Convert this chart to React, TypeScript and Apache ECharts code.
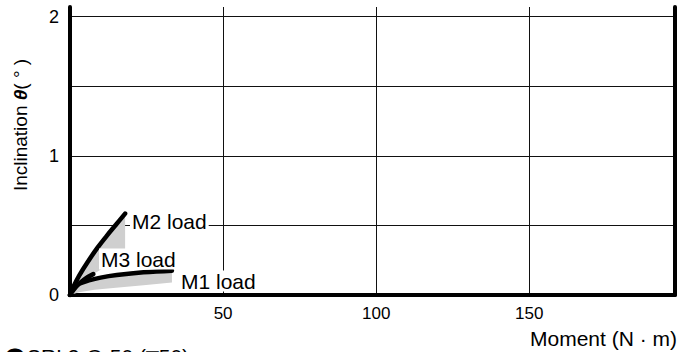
import React, { useEffect, useRef } from "react";
import * as echarts from "echarts";

// Data (x: moment N·m, y: inclination °)
const m1Line = [[0, 0], [1, 0.045], [3, 0.08], [6.5, 0.107], [10, 0.125], [15.3, 0.143], [24, 0.163], [33.3, 0.175]];
const m1Lower = [[0, 0], [3, 0.02], [8, 0.037], [15, 0.052], [24, 0.07], [33.3, 0.09]];
const m2Line = [[0, 0], [1, 0.055], [3, 0.14], [6, 0.245], [9, 0.34], [12, 0.425], [15, 0.505], [18, 0.585]];
const m2Lower = [[0, 0], [4, 0.08], [7.6, 0.15], [12, 0.21], [18, 0.26]];
const m3Line = [[0, 0], [2, 0.06], [4.5, 0.11], [7.6, 0.15]];
const m3Upper = [[0, 0], [3, 0.13], [6, 0.2], [9.8, 0.26]];

const xMin = 0;
const xMax = 197.6;
const xInterval = 50;
const yMin = 0;
const yMax = 2.07;
const yInterval = 0.5;

const loadLabels = ["M1 load", "M2 load", "M3 load"];
const xName = "Moment (N · m)";
const yNameMain = "Inclination ";
const yNameSym = "θ";
const yNameUnit = "( ° )";
const footMark = "●";
const footTitle = "SRL3-Q-50 (□50)";

const FONT = "'Liberation Sans', Arial, Helvetica, sans-serif";

function bandSeries(upper: number[][], lower: number[][]) {
  return {
    type: "custom",
    xAxisIndex: 0,
    yAxisIndex: 0,
    z: 1,
    silent: true,
    data: [[0, 0]],
    renderItem: (_params: any, api: any) => {
      const pts = upper.map((p) => api.coord(p));
      const low = lower.slice().reverse().map((p) => api.coord(p));
      return {
        type: "polygon",
        shape: { points: pts.concat(low) },
        style: { fill: "#cfcfcf", stroke: "none" },
      };
    },
  };
}

function lineSeries(data: number[][]) {
  return {
    type: "line",
    xAxisIndex: 0,
    yAxisIndex: 0,
    z: 3,
    data,
    smooth: 0.4,
    symbol: "none",
    lineStyle: { color: "#000", width: 4.5, cap: "round" },
  };
}

export default function App() {
  const ref = useRef<HTMLDivElement>(null);
  useEffect(() => {
    if (!ref.current) return;
    const chart = echarts.init(ref.current, null, { renderer: "svg" });
    const labelStyle = (text: string) => ({
      text,
      font: `21px ${FONT}`,
      fill: "#000",
      backgroundColor: "#fff",
      padding: [0, 2, 0, 2],
      align: "left",
      verticalAlign: "middle",
    });
    chart.setOption({
      animation: false,
      backgroundColor: "#fff",
      textStyle: { fontFamily: FONT },
      grid: { left: 70, right: 4, top: 7, bottom: 57, containLabel: false },
      xAxis: {
        type: "value",
        min: xMin,
        max: xMax,
        interval: xInterval,
        axisLine: { show: true, onZero: false, lineStyle: { color: "#000", width: 4 } },
        axisTick: { show: false },
        axisLabel: {
          showMinLabel: false,
          showMaxLabel: false,
          color: "#000",
          fontSize: 17,
          fontFamily: FONT,
          margin: 10,
        },
        splitLine: { show: true, showMinLine: false, showMaxLine: false, lineStyle: { color: "#111", width: 1 } },
      },
      yAxis: [
        {
          type: "value",
          min: yMin,
          max: yMax,
          interval: yInterval,
          axisLine: { show: true, onZero: false, lineStyle: { color: "#000", width: 4 } },
          axisTick: { show: false },
          axisLabel: {
            showMaxLabel: false,
            color: "#000",
            fontSize: 18,
            fontFamily: FONT,
            margin: 11,
            formatter: (v: number) => (Math.abs(v - Math.round(v)) < 1e-9 ? String(Math.round(v)) : ""),
          },
          splitLine: { show: true, showMinLine: false, showMaxLine: false, lineStyle: { color: "#111", width: 1 } },
        },
        {
          type: "value",
          position: "right",
          min: yMin,
          max: yMax,
          interval: yInterval,
          axisLine: { show: true, onZero: false, lineStyle: { color: "#000", width: 4 } },
          axisTick: { show: false },
          axisLabel: { show: false },
          splitLine: { show: false },
        },
      ],
      series: [
        bandSeries(m1Line, m1Lower),
        bandSeries(m2Line, m2Lower),
        bandSeries(m3Upper, m3Line),
        lineSeries(m1Line),
        lineSeries(m2Line),
        lineSeries(m3Line),
      ],
      graphic: [
        { type: "text", x: 130, y: 221, z: 10, style: labelStyle(loadLabels[1]) },
        { type: "text", x: 99, y: 259, z: 10, style: labelStyle(loadLabels[2]) },
        { type: "text", x: 179, y: 281, z: 10, style: labelStyle(loadLabels[0]) },
        {
          type: "text",
          x: 677,
          y: 338,
          z: 10,
          style: { text: xName, font: `21px ${FONT}`, fill: "#000", align: "right", verticalAlign: "middle" },
        },
        {
          type: "text",
          x: 20,
          y: 125,
          rotation: Math.PI / 2,
          z: 10,
          style: {
            text: `{a|${yNameMain}}{b|${yNameSym}}{a|${yNameUnit}}`,
            align: "center",
            verticalAlign: "middle",
            fill: "#000",
            rich: {
              a: { fontSize: 19, fontFamily: FONT, fill: "#000" },
              b: { fontSize: 19, fontFamily: FONT, fontWeight: "bold", fontStyle: "italic", fill: "#000" },
            },
          },
        },
        {
          type: "text",
          x: 3,
          y: 345,
          z: 10,
          style: {
            text: `{m|${footMark}}{t|${footTitle}}`,
            align: "left",
            verticalAlign: "top",
            fill: "#000",
            rich: {
              m: { fontSize: 24, fontFamily: "'Noto Sans CJK JP', 'DejaVu Sans'", fill: "#000" },
              t: { fontSize: 21, fontFamily: FONT, fill: "#000" },
            },
          },
        },
      ],
    });
    return () => chart.dispose();
  }, []);
  return (
    <div
      ref={ref}
      style={{ position: "fixed", left: 0, top: 0, width: 679, height: 352 }}
    />
  );
}
